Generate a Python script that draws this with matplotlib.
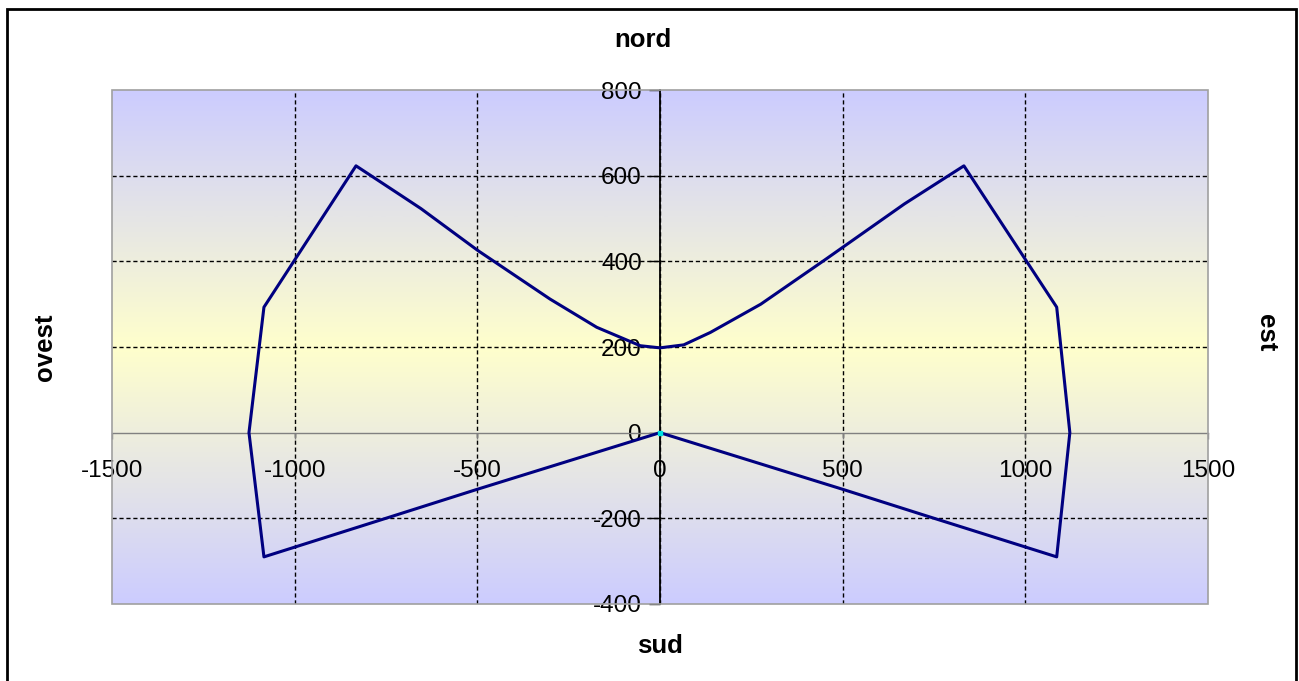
import numpy as np
import matplotlib
matplotlib.use("Agg")
import matplotlib.pyplot as plt
from matplotlib.colors import LinearSegmentedColormap
from matplotlib.patches import Rectangle

# Trajectoire (est/ouest en x, nord/sud en y)
x_traj = [0, -503, -732, -1084, -1125, -1084, -832, -709, -654, -498, -301, -173, -54, 0,
          65, 138, 276, 449, 569, 669, 832, 1086, 1122, 1086, 732, 503, 0]
y_traj = [0, -133, -195, -290, 0, 293, 623, 554, 523, 425, 312, 246, 203, 198,
          205, 234, 300, 402, 474, 534, 623, 293, 0, -290, -195, -133, 0]

x_ticks = [-1500, -1000, -500, 0, 500, 1000, 1500]
y_ticks = [-400, -200, 0, 200, 400, 600, 800]

plt.rcParams['font.family'] = ['Liberation Sans', 'DejaVu Sans']

fig = plt.figure(figsize=(12.99, 6.81), dpi=100)
ax = fig.add_axes([0.0862, 0.1131, 0.8437, 0.7547])
ax.set_xlim(-1500, 1500)
ax.set_ylim(-400, 800)

# Fond en dégradé bleu - jaune - bleu
fond = LinearSegmentedColormap.from_list("fond", ["#ccccff", "#ffffcc", "#ccccff"])
grad = np.linspace(0, 1, 256).reshape(-1, 1)
ax.imshow(grad, cmap=fond, aspect="auto", extent=(-1500, 1500, -400, 800),
          origin="lower", zorder=0)

# Quadrillage pointillé
for gx in [-1000, -500, 0, 500, 1000]:
    ax.axvline(gx, color="black", lw=1, ls=(0, (3, 2)), zorder=1)
for gy in [-200, 200, 400, 600]:
    ax.axhline(gy, color="black", lw=1, ls=(0, (3, 2)), zorder=1)

# Axes croisés en zéro
ax.spines['left'].set_position(('data', 0))
ax.spines['bottom'].set_position(('data', 0))
ax.spines['left'].set_color("black")
ax.spines['left'].set_linewidth(1.3)
ax.spines['bottom'].set_color("#808080")
ax.spines['bottom'].set_linewidth(1)
ax.spines['right'].set_visible(False)
ax.spines['top'].set_visible(False)
for sp in ax.spines.values():
    sp.set_zorder(2)
ax.add_patch(Rectangle((0, 0), 1, 1, transform=ax.transAxes, fill=False,
                       edgecolor="#a0a0a0", lw=1.2, clip_on=False, zorder=3))

ax.set_xticks(x_ticks)
ax.set_yticks(y_ticks)
ax.set_xticklabels([str(v) for v in x_ticks])
ax.set_yticklabels([str(v) for v in y_ticks])
ax.tick_params(axis="x", direction="out", length=4, width=1, color="#808080",
               pad=16, labelsize=17.5)
ax.tick_params(axis="y", direction="out", length=8, width=1, color="black",
               pad=5, labelsize=17.5)

ax.plot(x_traj, y_traj, color="#000080", lw=2.2, zorder=4, clip_on=False)
ax.plot([0], [0], marker="s", ms=3, color="#00e0e0", zorder=5)

# Points cardinaux
fig.text(0.495, 0.941, "nord", ha="center", va="center", fontsize=18.5, fontweight="bold")
fig.text(0.508, 0.0514, "sud", ha="center", va="center", fontsize=18.5, fontweight="bold")
fig.text(0.0346, 0.49, "ovest", ha="center", va="center", rotation=90,
         fontsize=18.5, fontweight="bold")
fig.text(0.9746, 0.511, "est", ha="center", va="center", rotation=270,
         fontsize=18.5, fontweight="bold")

# Cadre extérieur
fig.patches.append(Rectangle((0.0054, -0.05), 0.9923, 1.037, transform=fig.transFigure,
                             fill=False, edgecolor="black", lw=2))

fig.savefig("out.png", dpi=100)
